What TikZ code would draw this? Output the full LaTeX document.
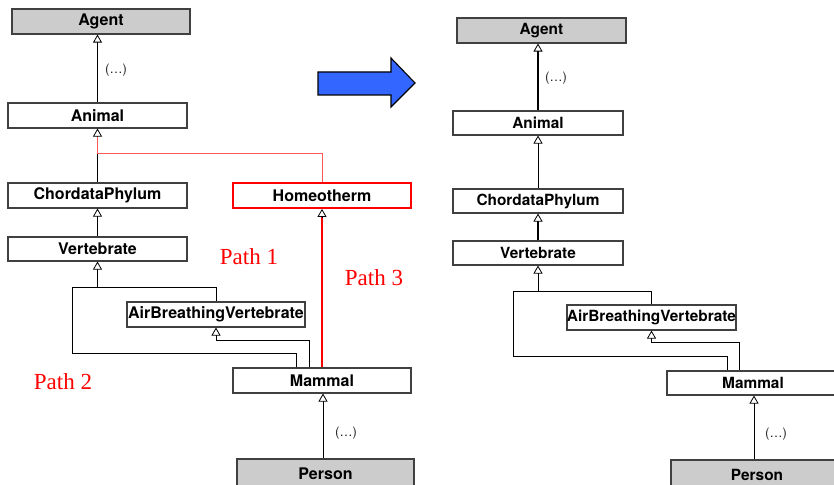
\documentclass[tikz,border=0pt]{standalone}
\usepackage{fontspec}
\setsansfont{TeX Gyre Heros}
\newfontfamily\pathfont{Liberation Serif}
\usetikzlibrary{arrows.meta}
\definecolor{boxgray}{HTML}{404040}
\definecolor{classgray}{HTML}{CCCCCC}
\definecolor{arrowblue}{HTML}{3366FF}
\definecolor{pathred}{HTML}{FF0000}
\tikzset{
  box/.style={draw=boxgray, line width=1.1pt, fill=white, minimum height=25pt,
    inner sep=0pt, font=\sffamily\bfseries\fontsize{16}{16}\selectfont},
  rbox/.style={box, font=\sffamily\bfseries\fontsize{15.4}{16}\selectfont},
  rootbox/.style={fill=classgray},
  conn/.style={line width=0.9pt, draw=black},
  thickconn/.style={line width=2.4pt, draw=black},
  inh/.style={conn, -{Triangle[fill=white, length=8pt, width=9pt, line width=0.8pt]}},
  thickinh/.style={thickconn, -{Triangle[fill=white, length=8pt, width=9pt, line width=0.8pt]}},
  dots/.style={font=\sffamily\fontsize{13}{13}\selectfont, text=black!85},
  pathlabel/.style={font=\pathfont\fontsize{23}{23}\selectfont, text=pathred},
}
\begin{document}
\begin{tikzpicture}[x=1pt, y=-1pt]
\useasboundingbox (0,0) rectangle (834,484);

% ---------- hierarchy before the change ----------
\node[box, rootbox, minimum width=178pt] (agentL) at (101,21.5) {Agent};
\node[box, minimum width=179pt] (animalL) at (97.5,115.5) {Animal};
\node[box, minimum width=179pt] (chordL) at (97.5,195.5) {ChordataPhylum};
\node[box, draw=pathred, line width=1.8pt, minimum width=178pt] (homeo) at (322,195.5) {Homeotherm};
\node[box, minimum width=179pt, minimum height=24pt] (vertL) at (97.5,249) {Vertebrate};
\node[box, minimum width=178pt] (airL) at (216,314.5) {AirBreathingVertebrate};
\node[box, minimum width=178pt] (mammalL) at (322,380.5) {Mammal};
\node[box, rootbox, minimum width=177pt, minimum height=30pt] (personL) at (325.5,474) {Person};

\coordinate (bvL) at (97.5,287);
\coordinate (lcL) at (72,353);

\draw[inh] (animalL.north) -- (animalL.north |- agentL.south);
\node[dots] (dotsAL) at (116,70) {(…)};
\draw[inh] (chordL.north) -- (animalL.south);
% Path 1: Homeotherm up to Animal
\draw[draw=pathred!65, line width=0.9pt] (homeo.north) -- ++(0,-29) -| ([yshift=-8.5pt]animalL.south);
\draw[inh] (vertL.north) -- (chordL.south);
% Path 2: Mammal directly under Vertebrate, and through AirBreathingVertebrate
\draw[conn] ([xshift=-26pt]mammalL.north) |- (lcL) |- (bvL);
\draw[conn] (airL.north) |- (bvL);
\draw[inh] (bvL) -- (vertL.south);
\draw[inh] ([xshift=-13pt]mammalL.north) -- ++(0,-27) -| (airL.south);
% Path 3: Mammal under Homeotherm
\draw[draw=pathred, line width=2.4pt] (mammalL.north) -- ([yshift=-8.5pt]homeo.south);
\draw[inh] ([yshift=-8.5pt]homeo.south) -- (homeo.south);
\draw[inh] ([xshift=1pt]mammalL.south |- personL.north) -- ([xshift=1pt]mammalL.south);
\node[dots] (dotsML) at (346,433) {(…)};

\node[pathlabel] (p1) at (249,257) {Path 1};
\node[pathlabel] (p2) at (63,382) {Path 2};
\node[pathlabel] (p3) at (374,278) {Path 3};

% ---------- transformation arrow ----------
\filldraw[fill=arrowblue, draw=black, line width=1.1pt, line join=miter]
  (318,72) -- (391,72) -- (391,58) -- (415,83) -- (391,107) -- (391,95) -- (318,95) -- cycle;

% ---------- hierarchy after the change ----------
\node[rbox, rootbox, minimum width=169pt] (agentR) at (541.5,30.5) {Agent};
\node[rbox, minimum width=170pt, minimum height=24pt] (animalR) at (538,123) {Animal};
\node[rbox, minimum width=170pt, minimum height=24pt] (chordR) at (538,201) {ChordataPhylum};
\node[rbox, minimum width=170pt, minimum height=24pt] (vertR) at (538,253) {Vertebrate};
\node[rbox, minimum width=169pt] (airR) at (651.5,317.5) {AirBreathingVertebrate};
\node[rbox, minimum width=172pt, minimum height=24pt] (mammalR) at (753,383) {Mammal};
\node[rbox, rootbox, minimum width=172pt, minimum height=30pt] (personR) at (757,475) {Person};

\coordinate (bvR) at (538,291);
\coordinate (lcR) at (513,356);

\draw[thickinh] (animalR.north) -- (animalR.north |- agentR.south);
\node[dots] (dotsAR) at (556,78) {(…)};
\draw[inh] (chordR.north) -- (animalR.south);
\draw[thickinh] (vertR.north) -- (chordR.south);
\draw[conn] ([xshift=-26pt]mammalR.north) |- (lcR) |- (bvR);
\draw[conn] (airR.north) |- (bvR);
\draw[inh] (bvR) -- (vertR.south);
\draw[inh] ([xshift=-14pt]mammalR.north) -- ++(0,-28) -| (airR.south);
\draw[inh] ([xshift=1pt]mammalR.south |- personR.north) -- ([xshift=1pt]mammalR.south);
\node[dots] (dotsMR) at (776,434) {(…)};
\end{tikzpicture}
\end{document}
